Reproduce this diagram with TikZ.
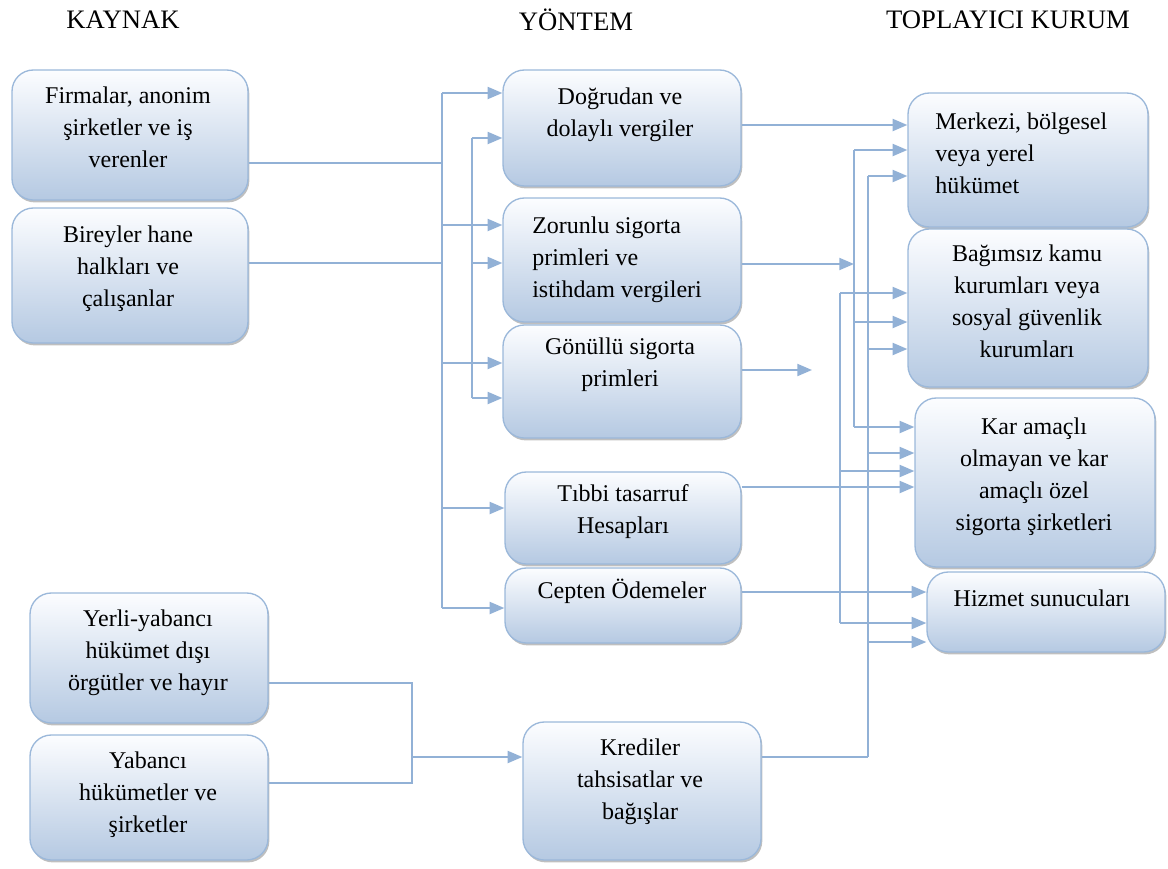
\documentclass[tikz,border=0pt]{standalone}
\usepackage{fontspec}
\setmainfont{LiberationSerif}[Extension=.ttf, UprightFont=*-Regular, BoldFont=*-Bold]
\usetikzlibrary{arrows.meta,shadows,fit}
\definecolor{boxtop}{RGB}{252,253,255}
\definecolor{boxbot}{RGB}{181,201,226}
\definecolor{boxline}{RGB}{155,184,218}
\definecolor{link}{RGB}{146,177,214}
\begin{document}
\begin{tikzpicture}[x=0.75pt,y=-0.75pt,
  box/.style={draw=boxline, line width=1pt, rounded corners=16pt,
    top color=boxtop, bottom color=boxbot, inner sep=0pt,
    drop shadow={shadow xshift=1pt,shadow yshift=-1.8pt,fill=black!50,opacity=0.5}},
  txt/.style={font=\fontsize{18}{24}\selectfont, align=center, inner sep=0pt,
    execute at begin node=\strut, execute at end node=\strut},
  head/.style={font=\fontsize{20}{24}\selectfont, inner sep=0pt},
  ln/.style={draw=link, line width=1.5pt},
  arr/.style={ln, -{Triangle[length=11pt,width=9pt]}}
]
\useasboundingbox (0,0) rectangle (1168,868);

% column headings
\node[head] (h1) at (123,20) {KAYNAK};
\node[head] (h2) at (576,20) {YÖNTEM};
\node[head] (h3) at (1008,20) {TOPLAYICI KURUM};

% sources
\node[box, fit={(12,70) (248,200)}] (src1) {};
\node[box, fit={(12,208) (248,343)}] (src2) {};
\node[box, fit={(30,593) (268,723)}] (src3) {};
\node[box, fit={(30,735) (268,860)}] (src4) {};

% methods
\node[box, fit={(503,70) (741,186)}] (m1) {};
\node[box, fit={(503,198) (741,322)}] (m2) {};
\node[box, fit={(503,325) (741,438)}] (m3) {};
\node[box, fit={(505,472) (741,564)}] (m4) {};
\node[box, fit={(505,568) (741,643)}] (m5) {};
\node[box, fit={(523,722) (761,860)}] (m6) {};

% collecting bodies
\node[box, fit={(908,93) (1148,227)}] (r1) {};
\node[box, fit={(908,229) (1148,387)}] (r2) {};
\node[box, fit={(915,398) (1155,567)}] (r3) {};
\node[box, fit={(927,572) (1165,652)}] (r4) {};

% box texts
\node[txt] (t-src1) at (128,132) {Firmalar, anonim\\şirketler ve iş\\verenler};
\node[txt] (t-src2) at (128,271) {Bireyler hane\\halkları ve\\çalışanlar};
\node[txt] (t-src3) at (148,655) {Yerli-yabancı\\hükümet dışı\\örgütler ve hayır};
\node[txt] (t-src4) at (148,797) {Yabancı\\hükümetler ve\\şirketler};
\node[txt] (t-m1) at (620,117) {Doğrudan ve\\dolaylı vergiler};
\node[txt, align=left, anchor=west] (t-m2) at (532,262) {Zorunlu sigorta\\primleri ve\\istihdam vergileri};
\node[txt] (t-m3) at (620,367) {Gönüllü sigorta\\primleri};
\node[txt] (t-m4) at (623,514) {Tıbbi tasarruf\\Hesapları};
\node[txt] (t-m5) at (622,592) {Cepten Ödemeler};
\node[txt] (t-m6) at (640,784) {Krediler\\tahsisatlar ve\\bağışlar};
\node[txt, align=left, anchor=west] (t-r1) at (935,158) {Merkezi, bölgesel\\veya yerel\\hükümet};
\node[txt] (t-r2) at (1027,306) {Bağımsız kamu\\kurumları veya\\sosyal güvenlik\\kurumları};
\node[txt] (t-r3) at (1034,479) {Kar amaçlı\\olmayan ve kar\\amaçlı özel\\sigorta şirketleri};
\node[txt] (t-r4) at (1042,600) {Hizmet sunucuları};

% junction points of the connectors
\coordinate (L0) at (442,93);
\coordinate (L1) at (442,163);
\coordinate (L2) at (442,225);
\coordinate (L3) at (442,263);
\coordinate (L4) at (442,363);
\coordinate (L5) at (442,508);
\coordinate (L6) at (442,608);
\coordinate (K0) at (472,138);
\coordinate (K1) at (472,263);
\coordinate (K2) at (472,398);
\coordinate (Y1) at (412,683);
\coordinate (Y2) at (412,783);
\coordinate (Y3) at (412,757);
\coordinate (A0) at (854,150);
\coordinate (A1) at (854,264);
\coordinate (A2) at (854,322);
\coordinate (A3) at (854,427);
\coordinate (B0) at (868,176);
\coordinate (B1) at (868,349);
\coordinate (B2) at (868,453);
\coordinate (B3) at (868,642);
\coordinate (B4) at (868,757);
\coordinate (C0) at (840,293);
\coordinate (C1) at (840,471);
\coordinate (C2) at (840,623);
\coordinate (G) at (812,370);

% sources to methods
\draw[ln] (src1.east |- L1) -- (L1);
\draw[ln] (src2.east |- L3) -- (L3);
\draw[ln] (L0) -- (L6);
\draw[ln] (K0) -- (K2);
\draw[arr] (L0) -- (m1.west |- L0);
\draw[arr] (K0) -- (m1.west |- K0);
\draw[arr] (L2) -- (m2.west |- L2);
\draw[arr] (K1) -- (m2.west |- K1);
\draw[arr] (L4) -- (m3.west |- L4);
\draw[arr] (K2) -- (m3.west |- K2);
\draw[arr] (L5) -- (m4.west |- L5);
\draw[arr] (L6) -- (m5.west |- L6);
\draw[ln] (src3.east |- Y1) -- (Y1) -- (Y2) -- (src4.east |- Y2);
\draw[arr] (Y3) -- (m6.west |- Y3);

% methods to collecting bodies
\draw[arr] (m1.east |- 0,125) -- (r1.west |- 0,125);
\draw[arr] (m2.east |- A1) -- (A1);
\draw[arr] (m3.east |- G) -- (G);
\draw[arr] (m4.east |- 0,487) -- (r3.west |- 0,487);
\draw[arr] (m5.east |- 0,592) -- (r4.west |- 0,592);
\draw[ln] (m6.east |- B4) -- (B4);
\draw[ln] (A0) -- (A3);
\draw[ln] (B0) -- (B4);
\draw[ln] (C0) -- (C2);
\draw[arr] (A0) -- (r1.west |- A0);
\draw[arr] (B0) -- (r1.west |- B0);
\draw[arr] (C0) -- (r2.west |- C0);
\draw[arr] (A2) -- (r2.west |- A2);
\draw[arr] (B1) -- (r2.west |- B1);
\draw[arr] (A3) -- (r3.west |- A3);
\draw[arr] (B2) -- (r3.west |- B2);
\draw[arr] (C1) -- (r3.west |- C1);
\draw[arr] (C2) -- (r4.west |- C2);
\draw[arr] (B3) -- (r4.west |- B3);
\end{tikzpicture}
\end{document}
